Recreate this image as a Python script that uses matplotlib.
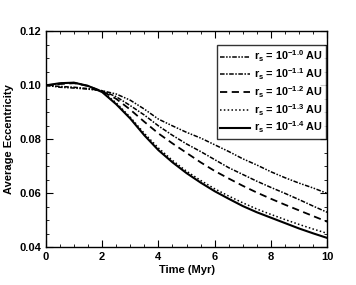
import numpy as np
import matplotlib
matplotlib.use("Agg")
import matplotlib.pyplot as plt
from matplotlib.ticker import MultipleLocator

plt.rcParams['font.family'] = 'Liberation Sans'
plt.rcParams['font.weight'] = 'bold'
plt.rcParams['mathtext.fontset'] = 'custom'
plt.rcParams['mathtext.rm'] = 'Liberation Sans:bold'
plt.rcParams['mathtext.bf'] = 'Liberation Sans:bold'
plt.rcParams['mathtext.default'] = 'bf'

# time in Myr
time = [0, 0.5, 1, 1.5, 2, 2.5, 3, 3.5, 4, 4.5, 5, 5.5, 6, 6.5, 7, 7.5, 8, 8.5, 9, 9.5, 10]

# average eccentricity for each r_s
ecc_10 = [0.1000, 0.0993, 0.0990, 0.0986, 0.0980, 0.0968, 0.0945, 0.0912, 0.0875, 0.0850,
          0.0826, 0.0805, 0.0780, 0.0755, 0.0728, 0.0705, 0.0680, 0.0658, 0.0638, 0.0620, 0.0600]
ecc_11 = [0.1000, 0.0996, 0.0993, 0.0988, 0.0980, 0.0958, 0.0925, 0.0890, 0.0850, 0.0815,
          0.0783, 0.0755, 0.0725, 0.0695, 0.0670, 0.0645, 0.0622, 0.0600, 0.0577, 0.0553, 0.0530]
ecc_12 = [0.1000, 0.1005, 0.1008, 0.0998, 0.0978, 0.0950, 0.0910, 0.0865, 0.0822, 0.0785,
          0.0750, 0.0715, 0.0683, 0.0655, 0.0628, 0.0603, 0.0580, 0.0558, 0.0537, 0.0516, 0.0495]
ecc_13 = [0.1000, 0.1007, 0.1010, 0.0998, 0.0977, 0.0935, 0.0882, 0.0822, 0.0768, 0.0722,
          0.0682, 0.0648, 0.0617, 0.0590, 0.0565, 0.0542, 0.0522, 0.0503, 0.0485, 0.0468, 0.0452]
ecc_14 = [0.1000, 0.1008, 0.1010, 0.0998, 0.0975, 0.0930, 0.0877, 0.0815, 0.0760, 0.0715,
          0.0675, 0.0640, 0.0608, 0.0580, 0.0553, 0.0530, 0.0510, 0.0490, 0.0470, 0.0452, 0.0435]

labels = ['r$_s$ = 10$^{-1.0}$ AU', 'r$_s$ = 10$^{-1.1}$ AU', 'r$_s$ = 10$^{-1.2}$ AU',
          'r$_s$ = 10$^{-1.3}$ AU', 'r$_s$ = 10$^{-1.4}$ AU']

fig = plt.figure(figsize=(3.56, 2.85), dpi=100)
ax = fig.add_axes([0.129, 0.132, 0.790, 0.758])

ax.plot(time, ecc_10, color='black', lw=1.1, ls=(0, (3, 1, 1, 1, 1, 1)), label=labels[0])
ax.plot(time, ecc_11, color='black', lw=1.1, ls=(0, (3, 1, 1, 1)), label=labels[1])
ax.plot(time, ecc_12, color='black', lw=1.3, ls=(0, (4, 2.5)), label=labels[2])
ax.plot(time, ecc_13, color='black', lw=1.1, ls=(0, (1, 1.5)), label=labels[3])
ax.plot(time, ecc_14, color='black', lw=1.5, ls='-', label=labels[4])

ax.set_xlim(0, 10)
ax.set_ylim(0.04, 0.12)
ax.xaxis.set_major_locator(MultipleLocator(2))
ax.xaxis.set_minor_locator(MultipleLocator(0.5))
ax.yaxis.set_major_locator(MultipleLocator(0.02))
ax.yaxis.set_minor_locator(MultipleLocator(0.005))
ax.yaxis.set_major_formatter(plt.FormatStrFormatter('%.2f'))
ax.tick_params(which='both', direction='in', top=True, right=True, labelsize=8)
ax.tick_params(which='major', length=5)
ax.tick_params(which='minor', length=2.5)
for s in ax.spines.values():
    s.set_linewidth(1.0)

ax.set_xlabel('Time (Myr)', fontsize=8, fontweight='bold', labelpad=2)
ax.set_ylabel('Average Eccentricity', fontsize=8, fontweight='bold', labelpad=4)

leg = ax.legend(loc='upper right', bbox_to_anchor=(1.0, 0.94), fontsize=7.8,
                frameon=True, fancybox=False, edgecolor='black', handlelength=2.7,
                handletextpad=0.4, labelspacing=0.2, borderpad=0.3, borderaxespad=0.1)
leg.get_frame().set_linewidth(1.0)

fig.savefig('out.png', dpi=100)
